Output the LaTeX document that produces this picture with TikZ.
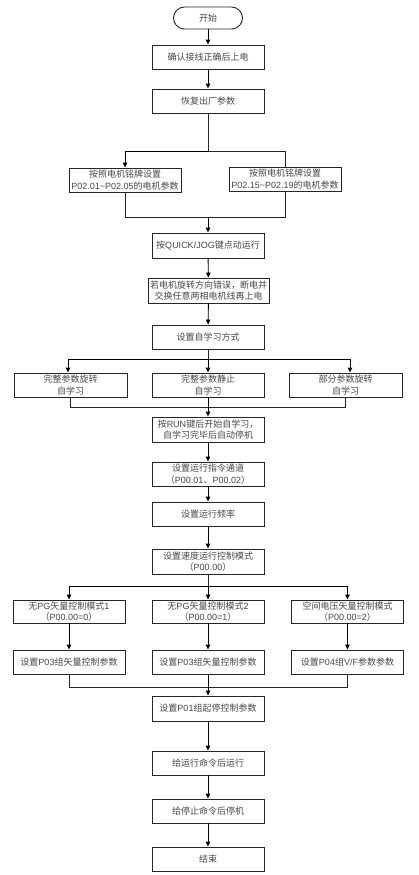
\documentclass[tikz,border=0pt]{standalone}
\usepackage{fontspec}
\setmainfont{Noto Sans CJK SC}
\newfontfamily\latinf{Liberation Sans}
\usetikzlibrary{arrows.meta}
\newcommand{\la}[1]{{\latinf #1}}
\begin{document}
\begin{tikzpicture}[x=1bp,y=-1bp,
  box/.style={draw=black!85, line width=0.9bp, minimum width=112bp, minimum height=24bp,
    inner sep=1bp, align=center, font=\fontsize{9bp}{11.5bp}\selectfont, text=black!72},
  arr/.style={-{Triangle[width=4.5bp,length=5bp]}, line width=0.9bp, draw=black},
  ln/.style={line width=0.9bp, draw=black!85}]
\useasboundingbox (0,0) rectangle (418,875);

% nodes
\node[box, rounded corners=11bp, minimum width=69bp, minimum height=22bp] (start) at (208,18) {开始};
\node[box] (b1) at (208,57) {确认接线正确后上电};
\node[box] (b2) at (208,101) {恢复出厂参数};
\node[box] (L1) at (125,180) {按照电机铭牌设置\\\la{P02.01\textasciitilde P02.05}的电机参数};
\node[box] (R1) at (285,179) {按照电机铭牌设置\\\la{P02.15\textasciitilde P02.19}的电机参数};
\node[box, minimum height=25bp] (quick) at (208,245.5) {按\la{QUICK/JOG}键点动运行};
\node[box, minimum width=121bp, minimum height=25bp] (ruo) at (208.5,290.5) {若电机旋转方向错误，断电并\\交换任意两相电机线再上电};
\node[box] (self) at (208,337) {设置自学习方式};
\node[box, minimum width=113bp] (A1) at (70.5,385) {完整参数旋转\\自学习};
\node[box] (A2) at (208,385) {完整参数静止\\自学习};
\node[box, minimum width=113bp] (A3) at (345.5,385) {部分参数旋转\\自学习};
\node[box, minimum height=25bp] (run) at (208,429.5) {按\la{RUN}键后开始自学习，\\自学习完毕后自动停机};
\node[box] (chan) at (208,474) {设置运行指令通道\\（\la{P00.01}、\la{P00.02}）};
\node[box] (freq) at (208,514) {设置运行频率};
\node[box, minimum height=25bp] (speed) at (208,561.5) {设置速度运行控制模式\\（\la{P00.00}）};
\node[box, minimum height=23bp] (M1) at (69,611.5) {无\la{PG}矢量控制模式\la{1}\\（\la{P00.00=0}）};
\node[box, minimum height=23bp] (M2) at (208,611.5) {无\la{PG}矢量控制模式\la{2}\\（\la{P00.00=1}）};
\node[box, minimum height=23bp] (M3) at (347.5,611.5) {空间电压矢量控制模式\\（\la{P00.00=2}）};
\node[box] (P1) at (69,662) {设置\la{P03}组矢量控制参数};
\node[box] (P2) at (208,662) {设置\la{P03}组矢量控制参数};
\node[box] (P3) at (347.5,662) {设置\la{P04}组\la{V/F}参数参数};
\node[box, minimum height=25bp] (p01) at (208,708.5) {设置\la{P01}组起停控制参数};
\node[box] (run2) at (208,763) {给运行命令后运行};
\node[box] (stop) at (208,811) {给停止命令后停机};
\node[box] (fin) at (208,859) {结束};

% junctions
\coordinate (j1) at (208,151);
\coordinate (j2) at (208,217);
\coordinate (j3) at (208,359);
\coordinate (j4) at (208,407);
\coordinate (j5) at (208,586);
\coordinate (j6) at (208,687);

% connectors
\draw[arr] (start) -- (b1);
\draw[arr] (b1) -- (b2);
\draw[ln] (b2.south) -- (j1);
\draw[arr] (j1) -| (L1.north);
\draw[ln] (j1) -| (R1.north);
\draw[ln] (L1.south) |- (j2);
\draw[ln] (R1.south) |- (j2);
\draw[arr] (j2) -- (quick.north);
\draw[arr] (quick) -- (ruo);
\draw[arr] (ruo) -- (self);
\draw[ln] (self.south) -- (j3);
\draw[arr] (j3) -| ([xshift=-2.5bp]A1.north);
\draw[arr] (j3) -- (A2.north);
\draw[arr] (j3) -| ([xshift=4.5bp]A3.north);
\draw[ln] (A1.south) |- (j4);
\draw[ln] (A3.south) |- (j4);
\draw[arr] (A2.south) -- (run.north);
\draw[arr] (run) -- (chan);
\draw[arr] (chan) -- (freq);
\draw[arr] (freq) -- (speed);
\draw[ln] (speed.south) -- (j5);
\draw[arr] (j5) -| (M1.north);
\draw[arr] (j5) -- (M2.north);
\draw[arr] (j5) -| (M3.north);
\draw[arr] (M1) -- (P1);
\draw[arr] (M2) -- (P2);
\draw[arr] (M3) -- (P3);
\draw[ln] (P1.south) |- (j6);
\draw[ln] (P3.south) |- (j6);
\draw[arr] (P2.south) -- (p01.north);
\draw[arr] (p01) -- (run2);
\draw[arr] (run2) -- (stop);
\draw[arr] (stop) -- (fin);
\end{tikzpicture}
\end{document}
